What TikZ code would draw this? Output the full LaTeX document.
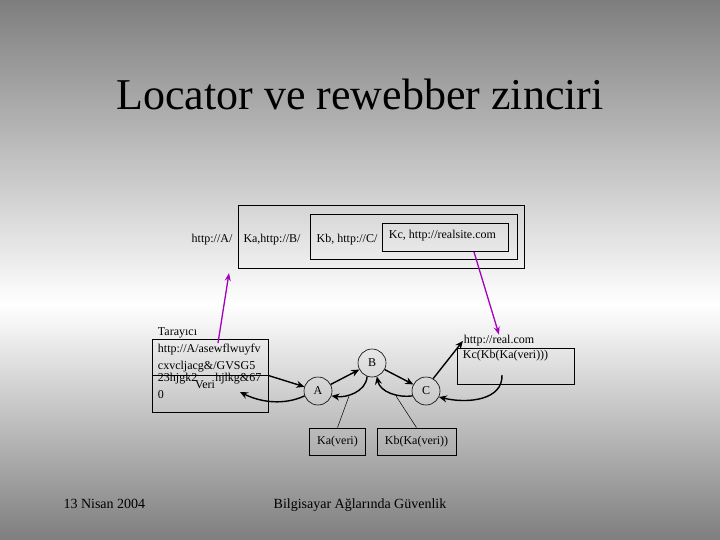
\documentclass[tikz,border=0pt]{standalone}
\usepackage{fontspec}
\setmainfont{Liberation Serif}
\usetikzlibrary{arrows.meta}

\definecolor{slidegray}{RGB}{126,126,126}
\definecolor{linkpurple}{RGB}{165,0,190}

\begin{document}
\begin{tikzpicture}[x=1pt,y=1pt,yscale=-1,xscale=1,
  lbl/.style={inner sep=0.75pt,font=\fontsize{12}{14}\selectfont},
  box/.style={draw,line width=0.8pt,rectangle,inner sep=0pt},
  ring/.style={draw,circle,line width=0.6pt,minimum size=28pt,inner sep=0pt,font=\fontsize{12}{14}\selectfont},
  arr/.style={line width=1.4pt,-{Stealth[length=8pt,width=7pt]}},
  parr/.style={draw=linkpurple,line width=1.3pt,-{Stealth[length=8pt,width=6pt]}}]
\useasboundingbox (0,0) rectangle (720,540);

%Shape: Background
\shade[top color=slidegray,bottom color=white] (0,0) rectangle (720,305);
\shade[top color=white,bottom color=slidegray] (0,305) rectangle (720,540);

% Text Node
\node[font=\fontsize{44}{50}\selectfont,anchor=base] (title) at (360,110) {Locator ve rewebber zinciri};

%Shape: Rectangle
\node[box,minimum width=286,minimum height=63] (outer) at (381.5,236.5) {};
%Shape: Rectangle
\node[box,minimum width=207,minimum height=45] (middle) at (413.5,236.5) {};
%Shape: Rectangle
\node[box,minimum width=126,minimum height=28] (kc) at (445,237) {};
% Text Node
\node[lbl,anchor=west] (kcLbl) at (388,236) {Kc, http://realsite.com};

% Text Node
\node[lbl] (urlA) at (212,240) {http://A/};
% Text Node
\node[lbl] (kaB) at (272,240) {Ka,http://B/};
% Text Node
\node[lbl] (kbC) at (347,240) {Kb, http://C/};

%Shape: Rectangle
\node[box,minimum width=116,minimum height=73] (tarayici) at (210,375.5) {};
%Shape: Rectangle
\node[box,minimum width=116,minimum height=36] (urlbox) at (210,357) {};
% Text Node
\node[lbl,anchor=west] (taraLbl) at (157,333) {Tarayıcı};
% Text Node
\node[lbl,anchor=west] (line1) at (157,350) {http://A/asewflwuyfv};
% Text Node
\node[lbl,anchor=west] (line2) at (157,367) {cxvcljacg\&/GVSG5};
% Text Node
\node[lbl,anchor=west] (line3) at (157,379) {23hjgk2\hspace{18pt}hjlkg\&67};
% Text Node
\node[lbl,anchor=west] (line4) at (157,395) {0};
% Text Node
\node[lbl] (veri) at (205,385) {Veri};

%Shape: Circle
\node[ring] (A) at (318,391) {A};
\node[ring] (B) at (372,363) {B};
\node[ring] (C) at (426,391) {C};

%Shape: Rectangle
\node[lbl,box,minimum width=56,minimum height=27] (kaveri) at (337.5,441.5) {Ka(veri)};
\node[lbl,box,minimum width=79,minimum height=27] (kbkaveri) at (416.5,441.5) {Kb(Ka(veri))};

% Text Node
\node[lbl] (realurl) at (499,341) {http://real.com};
%Shape: Rectangle
\node[box,minimum width=117,minimum height=36] (kcbox) at (515.5,366) {};
% Text Node
\node[lbl,anchor=west] (kcveri) at (462,356) {Kc(Kb(Ka(veri)))};

% Text Node
\node[font=\fontsize{14}{16}\selectfont,anchor=base west] (date) at (60,508) {13 Nisan 2004};
% Text Node
\node[font=\fontsize{14}{16}\selectfont,anchor=base] (footer) at (360,508) {Bilgisayar Ağlarında Güvenlik};

\coordinate (pA) at (218,343);
\coordinate (pAtop) at (229,273);
\coordinate (pC) at (474,252);
\coordinate (kcout) at (502,375);
\coordinate (veriin) at (240,392);
\coordinate (kaTip) at (349,396);
\coordinate (kbTip) at (396,396);

%Straight Lines
\draw[parr] (pA) -- (pAtop);
\draw[parr] (pC) -- (realurl.north);

%Straight Lines
\draw[arr] (tarayici.east) -- (A);
\draw[arr] (A) -- (B);
\draw[arr] (B) -- (C);
\draw[arr] (C.60) -- (realurl.west);

%Curve Lines
\draw[arr] (B.250) .. controls (366,392) and (346,398) .. (A.-20);
\draw[arr] (C.200) .. controls (398,398) and (380,392) .. (B.290);
\draw[arr] (kcout) .. controls (503,400) and (468,404) .. (C.-25);
\draw[arr] (A.200) .. controls (285,405) and (262,403) .. (veriin);

%Straight Lines
\draw[line width=0.5pt] (kaveri.north) -- (kaTip);
\draw[line width=0.5pt] (kbkaveri.north) -- (kbTip);

\end{tikzpicture}
\end{document}
